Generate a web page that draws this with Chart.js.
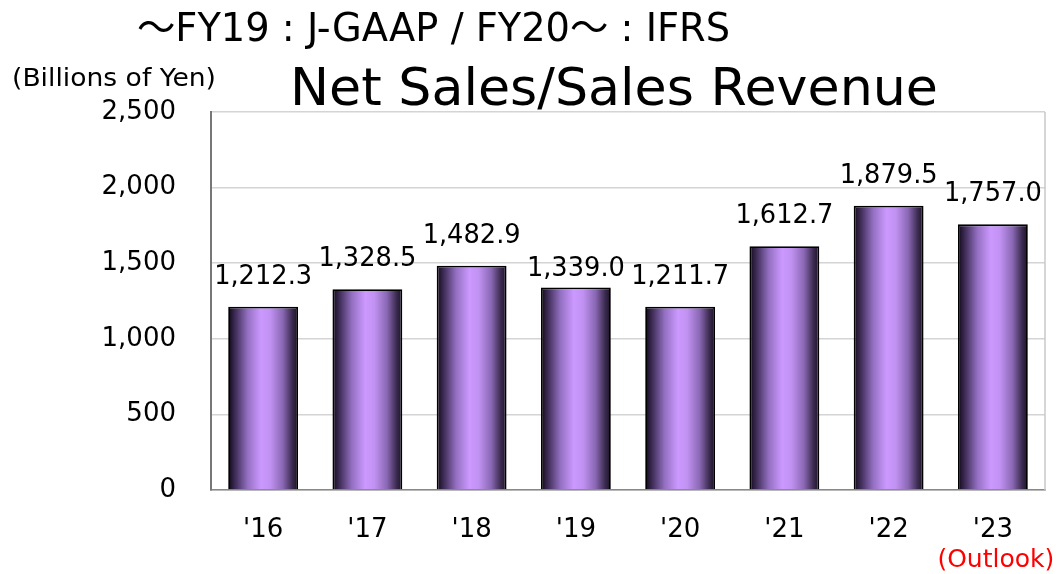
<!DOCTYPE html>
<html>
<head>
<meta charset="utf-8">
<script src="https://cdn.jsdelivr.net/npm/chart.js@4.4.0/dist/chart.umd.min.js"></script>
<style>
html,body{margin:0;padding:0;background:#fff;}
#wrap{width:1061px;height:574px;position:relative;}
</style>
</head>
<body>
<div id="wrap"><canvas id="c" width="1061" height="574"></canvas></div>
<script>
const categories = ["'16", "'17", "'18", "'19", "'20", "'21", "'22", "'23"];
const netSales = [1212.3, 1328.5, 1482.9, 1339.0, 1211.7, 1612.7, 1879.5, 1757.0];
const yTicks = [0, 500, 1000, 1500, 2000, 2500];
const subtitleText = "～FY19 : J-GAAP / FY20～ : IFRS";
const titleText = "Net Sales/Sales Revenue";
const unitText = "(Billions of Yen)";
const outlookText = "(Outlook)";

const FONT = "'DejaVu Sans', 'Noto Sans CJK JP', Verdana, sans-serif";

function fmt(v) {
  return v.toLocaleString('en-US', {minimumFractionDigits: 1, maximumFractionDigits: 1});
}

// draw text horizontally scaled to a target width
function fitText(ctx, text, x, y, font, targetW) {
  ctx.font = font;
  const w = ctx.measureText(text).width;
  const sx = targetW / w;
  ctx.save();
  ctx.translate(x, y);
  ctx.scale(sx, 1);
  ctx.textAlign = 'left';
  ctx.fillText(text, 0, 0);
  ctx.restore();
}

const gradientPlugin = {
  id: 'barGradient',
  beforeDatasetsDraw(chart) {
    const ctx = chart.ctx;
    chart.getDatasetMeta(0).data.forEach(el => {
      const left = el.x - el.width / 2, right = el.x + el.width / 2;
      const g = ctx.createLinearGradient(left, 0, right, 0);
      g.addColorStop(0, '#100818');
      g.addColorStop(0.1, '#3e2c56');
      g.addColorStop(0.28, '#9470c2');
      g.addColorStop(0.47, '#cc99ff');
      g.addColorStop(0.6, '#c192f2');
      g.addColorStop(0.78, '#8a68b4');
      g.addColorStop(0.92, '#3a2a4e');
      g.addColorStop(1, '#1a1222');
      el.options = Object.assign({}, el.options, { backgroundColor: g });
    });
  }
};

const textPlugin = {
  id: 'texts',
  afterDraw(chart) {
    const ctx = chart.ctx;
    ctx.save();
    ctx.fillStyle = '#000';
    ctx.textBaseline = 'alphabetic';
    // data labels
    const meta = chart.getDatasetMeta(0);
    const nudge = {3: 11};
    meta.data.forEach((el, i) => {
      const tw = 98;
      fitText(ctx, fmt(netSales[i]), el.x - tw / 2, el.y - 23 + (nudge[i] || 0), '26px ' + FONT, tw);
    });
    // subtitle
    fitText(ctx, subtitleText, 137, 41, '39px ' + FONT, 593);
    // unit
    fitText(ctx, unitText, 12, 86, '25px ' + FONT, 204);
    // title
    fitText(ctx, titleText, 290, 105, '51px ' + FONT, 648);
    // outlook
    const xs = chart.scales.x;
    ctx.fillStyle = '#ff0000';
    fitText(ctx, outlookText, xs.getPixelForValue(7) + 3 - 117 / 2, 567, '24px ' + FONT, 117);
    ctx.restore();
  }
};

new Chart(document.getElementById('c'), {
  type: 'bar',
  data: {
    labels: categories,
    datasets: [{
      data: netSales,
      backgroundColor: (c) => '#cc99ff',
      borderColor: '#000',
      borderWidth: 1.8,
      barPercentage: 0.67,
      categoryPercentage: 1.0
    }]
  },
  options: {
    responsive: false,
    animation: false,
    devicePixelRatio: 1,
    layout: { padding: { top: 112, right: 16, left: 0, bottom: 0 } },
    plugins: { legend: { display: false }, tooltip: { enabled: false }, title: { display: false } },
    scales: {
      x: {
        grid: { display: false, drawTicks: false },
        border: { display: true, color: '#888', width: 1.5 },
        ticks: { color: '#000', font: { family: FONT, size: 26 }, padding: 25, maxRotation: 0 },
        afterFit(s) { s.height = 84; }
      },
      y: {
        min: 0, max: 2500,
        afterBuildTicks(s) { s.ticks = yTicks.map(v => ({ value: v })); },
        grid: { color: '#d4d4d4', lineWidth: 1.5, drawTicks: false },
        border: { display: true, color: '#777', width: 2 },
        ticks: { color: '#000', font: { family: FONT, size: 26 }, padding: 35,
          callback: v => v.toLocaleString('en-US') },
        afterFit(s) { s.width = 211; }
      }
    }
  },
  plugins: [gradientPlugin, textPlugin, {
    id: 'rightBorder',
    afterDatasetsDraw(chart) {
      const a = chart.chartArea, ctx = chart.ctx;
      ctx.save();
      ctx.strokeStyle = '#c8c8c8';
      ctx.lineWidth = 1.5;
      ctx.beginPath();
      ctx.moveTo(a.right, a.top);
      ctx.lineTo(a.right, a.bottom);
      ctx.stroke();
      ctx.restore();
    }
  }]
});
</script>
</body>
</html>
